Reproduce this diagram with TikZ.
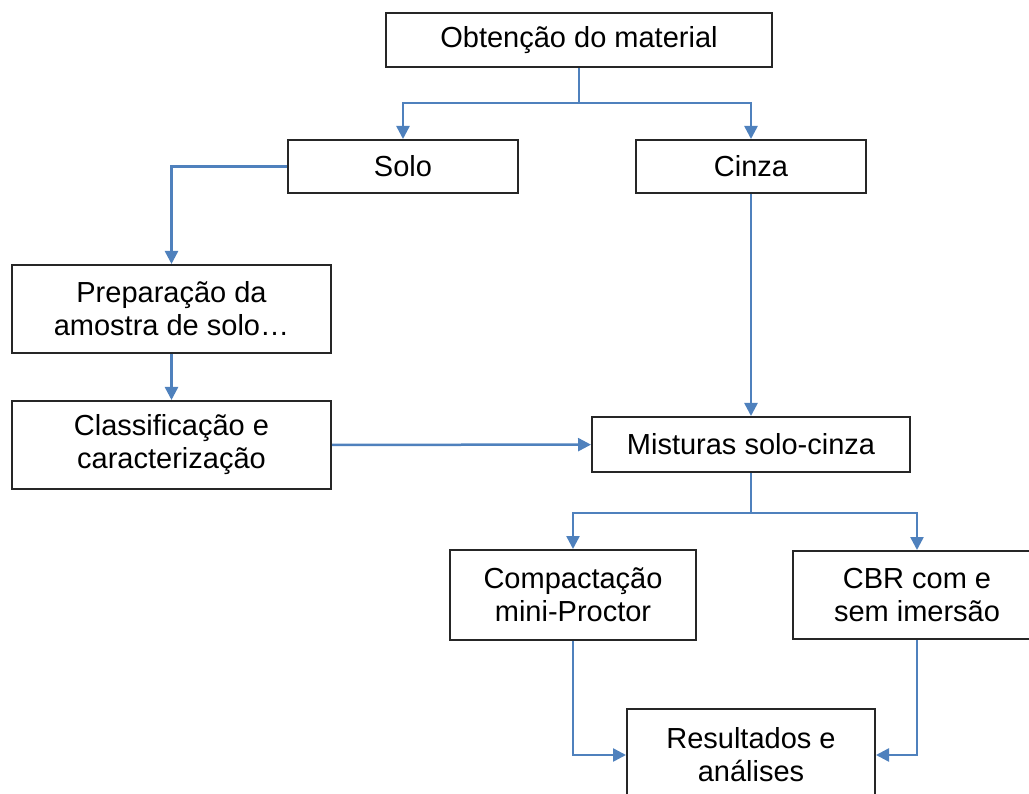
\documentclass[tikz,border=0pt]{standalone}
\usepackage{fontspec}
\setmainfont{Liberation Sans}
\usepackage{tikz}
\usetikzlibrary{arrows.meta}
\definecolor{linkblue}{RGB}{79,129,189}

\begin{document}
\begin{tikzpicture}[x=1pt,y=-1pt,>={Triangle[width=13pt,length=13pt]},
    main node/.style={rectangle,draw=black!85,line width=2pt,fill=white,align=center,inner sep=0pt,font=\fontsize{29}{33}\selectfont},
    link/.style={->,draw=linkblue,line width=2.5pt}]
  \clip (0,0) rectangle (1029,794);
  \begin{scope}
    \node[main node,minimum width=386pt,minimum height=54pt] (obt) at (579,40) {Obtenção do material};
    \node[main node,minimum width=230pt,minimum height=53pt] (solo) at (403,166.5) {Solo};
    \node[main node,minimum width=230pt,minimum height=53pt] (cinza) at (751,166.5) {Cinza};
    \node[main node,minimum width=319pt,minimum height=88pt] (prep) at (171.5,309) {Preparação da\\amostra de solo…};
    \node[main node,minimum width=319pt,minimum height=88pt] (class) at (171.5,445) {Classificação e\\caracterização};
    \node[main node,minimum width=318pt,minimum height=55pt] (mist) at (751,444.5) {Misturas solo-cinza};
    \node[main node,minimum width=246pt,minimum height=90pt] (comp) at (573,595) {Compactação\\mini-Proctor};
    \node[main node,minimum width=248pt,minimum height=88pt] (cbr) at (917,595) {CBR com e\\sem imersão};
    \node[main node,minimum width=248pt,minimum height=92pt] (res) at (751,755) {Resultados e\\análises};
    \coordinate (split1) at (579,103);
    \coordinate (split2) at (751,513);
    %% material
    \draw[link,-] (obt) -- (split1);
    \draw[link] (split1) -| (solo);
    \draw[link] (split1) -| (cinza);
    %% solo
    \draw[link] (solo) -| (prep);
    \draw[link] (prep) -- (class);
    \draw[link] (class) -- (mist);
    \draw[link] (cinza) -- (mist);
    %% ensaios
    \draw[link,-] (mist) -- (split2);
    \draw[link] (split2) -| (comp);
    \draw[link] (split2) -| (cbr);
    \draw[link] (comp) |- (res);
    \draw[link] (cbr) |- (res);
  \end{scope}
\end{tikzpicture}
\end{document}
